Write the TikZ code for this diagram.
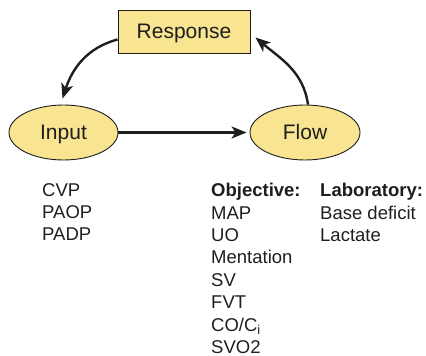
\documentclass[tikz,border=0pt]{standalone}
\usepackage{fontspec}
\setmainfont{Liberation Sans}
\usetikzlibrary{arrows.meta,shapes.geometric}
\definecolor{fillyel}{RGB}{249,229,145}
\definecolor{ink}{RGB}{30,30,30}
\begin{document}
\begin{tikzpicture}[x=1pt,y=1pt,
  shapebox/.style={draw=ink,line width=0.9pt,fill=fillyel,font=\fontsize{21}{24}\selectfont,text=ink,text height=15pt,text depth=0pt},
  flowarrow/.style={draw=ink,line width=2.4pt,-{Stealth[length=15pt,width=12pt,inset=4pt]}},
  listtext/.style={anchor=north west,inner sep=0pt,align=left,text=ink,font=\fontsize{18.5}{22.4}\selectfont}
]
\useasboundingbox (0,0) rectangle (426,356);
\node[shapebox,rectangle,minimum width=132pt,minimum height=43pt,inner sep=0pt] (resp) at (184,324.5) {Response};
\node[shapebox,ellipse,minimum width=109pt,minimum height=55pt,inner sep=0pt] (in) at (63.5,223.5) {Input};
\node[shapebox,ellipse,minimum width=110pt,minimum height=55pt,inner sep=0pt] (fl) at (305,223.5) {Flow};
\draw[flowarrow] ([yshift=-8pt]resp.west) to[out=195,in=72] ([xshift=-1pt,yshift=6pt]in.north);
\draw[flowarrow] ([xshift=3pt]fl.north) to[out=98,in=-40] ([xshift=5pt,yshift=-6pt]resp.east);
\draw[flowarrow] (in.east) -- ([xshift=-3pt]fl.west);
\node[listtext] (inlist) at (42,173) {CVP\\PAOP\\PADP};
\node[listtext] (objlist) at (211,173) {\textbf{Objective:}\\MAP\\UO\\Mentation\\SV\\FVT\\CO/C\textsubscript{i}\\SVO2};
\node[listtext] (lablist) at (320,173) {\textbf{Laboratory:}\\Base deficit\\Lactate};
\end{tikzpicture}
\end{document}
